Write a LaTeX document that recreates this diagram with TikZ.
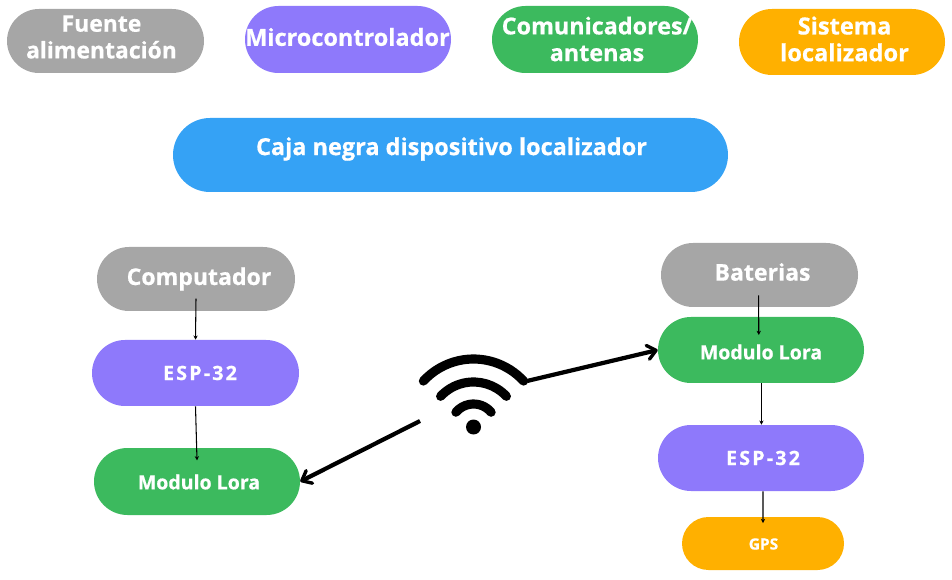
\documentclass[tikz,border=0pt]{standalone}
\usepackage{fontspec}
\setmainfont{Open Sans}[BoldFeatures={FakeBold=0.6}]
\newfontfamily\espfont{Open Sans Bold}[FakeBold=0.6,LetterSpace=11]
\usetikzlibrary{shapes.misc,arrows.meta}
\definecolor{gris}{HTML}{A6A6A6}
\definecolor{morado}{HTML}{8E79FB}
\definecolor{verde}{HTML}{3CBA5E}
\definecolor{naranja}{HTML}{FFB000}
\definecolor{azul}{HTML}{35A2F5}
\tikzset{
    pill/.style n args={3}{rounded rectangle, fill=#1, minimum width=#2*0.025cm, minimum height=#3*0.025cm, inner sep=0pt},
    txt/.style={text=white, font=\bfseries\fontsize{#1}{19}\selectfont, align=center, inner sep=0pt},
    fina/.style={-{Stealth[length=3pt,width=3pt]}, line width=0.75pt},
    gruesa/.style={-{Straight Barb[round,length=6pt,width=10pt,line width=2.4pt]}, line width=3pt},
    onda/.style={line width=6.5pt, line cap=round}
}
\begin{document}
\begin{tikzpicture}[x=0.025cm, y=0.025cm]
        \useasboundingbox (0,0) rectangle (952,579);
        % leyenda
        \node[pill={gris}{197}{64}] (fuente) at (105.5,538) {};
        \node[pill={morado}{206}{67}] (micro) at (348,539.5) {};
        \node[pill={verde}{206}{67}] (comu) at (595,539.5) {};
        \node[pill={naranja}{206}{66}] (sistema) at (842,537) {};
        \node[txt=16.3] (fuentetxt) at (101.5,542) {Fuente\\alimentación};
        \node[txt=16.7] (microtxt) at (347.5,542) {Microcontrolador};
        \node[txt=16.6] (comutxt) at (597,540) {Comunicadores/\\antenas};
        \node[txt=16.8] (sistematxt) at (844.5,540) {Sistema\\localizador};
        % titulo
        \node[pill={azul}{555}{74}] (caja) at (450.5,424) {};
        \node[txt=16.7] (cajatxt) at (451.5,430) {Caja negra dispositivo localizador};
        % lado izquierdo
        \node[pill={gris}{198}{64}] (computador) at (196,300) {};
        \node[pill={morado}{207}{66}] (espizq) at (195.5,206) {};
        \node[pill={verde}{206}{67}] (loraizq) at (197,97.5) {};
        \node[txt=16.4] (computadortxt) at (199,300) {Computador};
        \node[txt=14,font=\espfont\fontsize{14}{19}\selectfont] (espizqtxt) at (200,206) {ESP-32};
        \node[txt=13.9] (loraizqtxt) at (199,97) {Modulo Lora};
        % lado derecho
        \node[pill={gris}{197}{64}] (baterias) at (759.5,304) {};
        \node[pill={verde}{206}{66}] (loradcha) at (761,229) {};
        \node[pill={morado}{206}{66}] (espdcha) at (761,121) {};
        \node[pill={naranja}{162}{53}] (gps) at (763,35.5) {};
        \node[txt=16.4] (bateriastxt) at (762.5,307) {Baterias};
        \node[txt=13.9] (loradchatxt) at (761,227) {Modulo Lora};
        \node[txt=14,font=\espfont\fontsize{14}{19}\selectfont] (espdchatxt) at (763,121) {ESP-32};
        \node[txt=11] (gpstxt) at (763.5,35) {GPS};
        % wifi
        \node[circle, fill=black, minimum size=15*0.025cm, inner sep=0pt] (wifi) at (473.5,152) {};
        \foreach \r/\a in {68/47.5, 45/47, 23/50}
            \draw[onda] (wifi.center) ++({90-\a}:\r) arc[start angle=90-\a, end angle=90+\a, radius=\r];
        \coordinate (wifider) at (527,198);
        \coordinate (wifiizq) at (420,158);
        % conexiones
        \draw[fina] ([yshift=9pt]computador.south) -- (espizq.north);
        \draw[fina] (espizq.south) -- ([yshift=-9pt]loraizq.north);
        \draw[fina] ([xshift=-0.6pt,yshift=8.5pt]baterias.south) -- ([xshift=-1.6pt,yshift=-13pt]loradcha.north);
        \draw[fina] ([xshift=0.3pt]loradcha.south) -- ([xshift=0.3pt]espdcha.north);
        \draw[fina] ([xshift=1.4pt]espdcha.south) -- ([yshift=-4.5pt]gps.north);
        \draw[gruesa] (wifider) -- (loradcha.west);
        \draw[gruesa] (wifiizq) -- (loraizq.east);
\end{tikzpicture}
\end{document}
